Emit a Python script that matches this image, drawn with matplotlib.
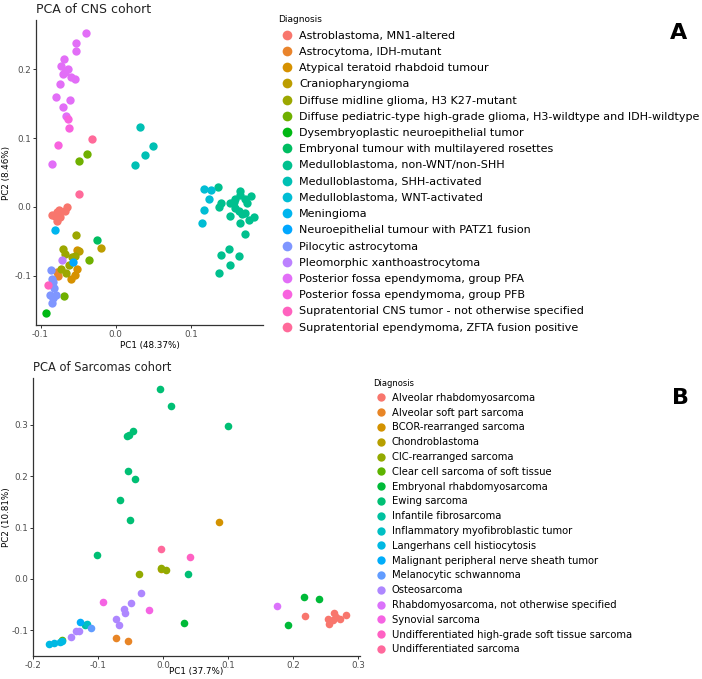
import numpy as np
import matplotlib
matplotlib.use("Agg")
import matplotlib.pyplot as plt
from matplotlib.lines import Line2D


def hue_pal(n, c=100, l=65):
    # ggplot2-style evenly spaced HCL hues -> rgb
    hues = 15 + 360 * np.arange(n) / n
    Xn, Yn, Zn = 95.047, 100.0, 108.883
    un = 4 * Xn / (Xn + 15 * Yn + 3 * Zn)
    vn = 9 * Yn / (Xn + 15 * Yn + 3 * Zn)
    out = []
    for h in hues:
        u = c * np.cos(np.radians(h))
        v = c * np.sin(np.radians(h))
        Y = Yn * ((l + 16) / 116) ** 3
        up = u / (13 * l) + un
        vp = v / (13 * l) + vn
        X = 9.0 * Y * up / (4 * vp)
        Z = -X / 3 - 5 * Y + 3 * Y / vp
        xyz = np.array([X, Y, Z]) / 100
        m = np.array([[3.240479, -1.537150, -0.498535],
                      [-0.969256, 1.875992, 0.041556],
                      [0.055648, -0.204043, 1.057311]])
        rgb = m @ xyz
        rgb = np.where(rgb > 0.0031308, 1.055 * np.abs(rgb) ** (1 / 2.4) - 0.055, 12.92 * rgb)
        out.append(tuple(np.clip(rgb, 0, 1)))
    return out


# ---------------- CNS cohort ----------------
cns_labels = [
    "Astroblastoma, MN1-altered",
    "Astrocytoma, IDH-mutant",
    "Atypical teratoid rhabdoid tumour",
    "Craniopharyngioma",
    "Diffuse midline glioma, H3 K27-mutant",
    "Diffuse pediatric-type high-grade glioma, H3-wildtype and IDH-wildtype",
    "Dysembryoplastic neuroepithelial tumor",
    "Embryonal tumour with multilayered rosettes",
    "Medulloblastoma, non-WNT/non-SHH",
    "Medulloblastoma, SHH-activated",
    "Medulloblastoma, WNT-activated",
    "Meningioma",
    "Neuroepithelial tumour with PATZ1 fusion",
    "Pilocytic astrocytoma",
    "Pleomorphic xanthoastrocytoma",
    "Posterior fossa ependymoma, group PFA",
    "Posterior fossa ependymoma, group PFB",
    "Supratentorial CNS tumor - not otherwise specified",
    "Supratentorial ependymoma, ZFTA fusion positive",
]

cns_pc1 = {
    0: [-0.0844, -0.0778, -0.0751, -0.0644, -0.0676, -0.0809, -0.0778, -0.0742],
    1: [-0.0764, -0.0787],
    2: [-0.0520, -0.0542, -0.0600, -0.0516],
    3: [-0.0200, -0.0484],
    4: [-0.0529, -0.0698, -0.0676, -0.0587, -0.0733, -0.0622, -0.0542, -0.0662],
    5: [-0.0493, -0.0378, -0.0684, -0.0351],
    6: [-0.0929],
    7: [-0.0244],
    8: [0.1356, 0.1378, 0.1404, 0.1524, 0.1569, 0.1658, 0.1649, 0.1582, 0.1724,
        0.1800, 0.1747, 0.1524, 0.1636, 0.1724, 0.1769, 0.1844, 0.1658, 0.1716,
        0.1507, 0.1400, 0.1524, 0.1636, 0.1373, 0.1680, 0.1591],
    9: [0.0329, 0.0502, 0.0396, 0.0258],
    10: [0.1178, 0.1267, 0.1244, 0.1169, 0.1142],
    11: [-0.0809],
    12: [-0.0570],
    13: [-0.0867, -0.0853, -0.0822, -0.0876, -0.0831, -0.0796, -0.0853, -0.0840],
    14: [-0.0720],
    15: [-0.0396, -0.0524, -0.0524, -0.0684, -0.0729, -0.0640, -0.0707, -0.0596,
         -0.0538, -0.0747, -0.0796, -0.0604, -0.0698, -0.0662, -0.0844, -0.0680],
    16: [-0.0631, -0.0627, -0.0764],
    17: [-0.0907],
    18: [-0.0316, -0.0493],
}
cns_pc2 = {
    0: [-0.0112, -0.0073, -0.0039, -0.0005, -0.0058, -0.0136, -0.0204, -0.0146],
    1: [-0.1010, -0.0947],
    2: [-0.0898, -0.0995, -0.1044, -0.0631],
    3: [-0.0597, -0.0641],
    4: [-0.0403, -0.0607, -0.0680, -0.0728, -0.0898, -0.0850, -0.0714, -0.0961],
    5: [0.0665, 0.0767, -0.1301, -0.0767],
    6: [-0.1544],
    7: [-0.0476],
    8: [0.0291, 0.0000, 0.0058, 0.0049, 0.0073, 0.0233, 0.0170, 0.0107, 0.0107,
        0.0160, 0.0049, -0.0136, -0.0058, -0.0083, -0.0194, -0.0146, -0.0233, -0.0398,
        -0.0607, -0.0704, -0.0840, -0.0718, -0.0956, -0.0097, -0.0024],
    9: [0.1165, 0.0888, 0.0762, 0.0607],
    10: [0.0257, 0.0252, 0.0121, -0.0039, -0.0228],
    11: [-0.0330],
    12: [-0.0800],
    13: [-0.0913, -0.1044, -0.1175, -0.1286, -0.1325, -0.1286, -0.1398, -0.1100],
    14: [-0.0767],
    15: [0.2534, 0.2388, 0.2267, 0.2155, 0.2049, 0.2005, 0.1932, 0.1893, 0.1859,
         0.1791, 0.1602, 0.1558, 0.1451, 0.1316, 0.0631, 0.1970],
    16: [0.1272, 0.1155, 0.0898],
    17: [-0.1131],
    18: [0.0985, 0.0184],
}

# ---------------- Sarcomas cohort ----------------
sarc_labels = [
    "Alveolar rhabdomyosarcoma",
    "Alveolar soft part sarcoma",
    "BCOR-rearranged sarcoma",
    "Chondroblastoma",
    "CIC-rearranged sarcoma",
    "Clear cell sarcoma of soft tissue",
    "Embryonal rhabdomyosarcoma",
    "Ewing sarcoma",
    "Infantile fibrosarcoma",
    "Inflammatory myofibroblastic tumor",
    "Langerhans cell histiocytosis",
    "Malignant peripheral nerve sheath tumor",
    "Melanocytic schwannoma",
    "Osteosarcoma",
    "Rhabdomyosarcoma, not otherwise specified",
    "Synovial sarcoma",
    "Undifferentiated high-grade soft tissue sarcoma",
    "Undifferentiated sarcoma",
]

sarc_pc1 = {
    0: [0.2184, 0.2633, 0.2541, 0.2617, 0.2556, 0.2730, 0.2811, 0.2668],
    1: [-0.0719, -0.0531],
    2: [0.0867],
    3: [-0.0030],
    4: [-0.0372, -0.0026, 0.0041],
    5: [-0.1560],
    6: [0.2168, 0.2403, 0.1929, 0.0316],
    7: [-0.0051, 0.0117, 0.1000, -0.0556, -0.0469, -0.0520, -0.0536, -0.0434,
        -0.0668, -0.0510, -0.1010, 0.0388],
    8: [-0.1200],
    9: [-0.1170],
    10: [-0.1760, -0.1670, -0.1590, -0.1560],
    11: [-0.1270],
    12: [-0.1110],
    13: [-0.0337, -0.0485, -0.0607, -0.0587, -0.0730, -0.0679, -0.1420, -0.1340, -0.1290],
    14: [0.1750],
    15: [-0.0930, -0.0210],
    16: [0.0420],
    17: [-0.0030],
}
sarc_pc2 = {
    0: [-0.0721, -0.0662, -0.0773, -0.0805, -0.0870, -0.0773, -0.0708, -0.0740],
    1: [-0.1143, -0.1214],
    2: [0.1104],
    3: [0.0200],
    4: [0.0104, 0.0221, 0.0182],
    5: [-0.1190],
    6: [-0.0351, -0.0383, -0.0890, -0.0857],
    7: [0.3688, 0.3370, 0.2974, 0.2786, 0.2883, 0.2799, 0.2104, 0.1935,
        0.1532, 0.1156, 0.0474, 0.0104],
    8: [-0.0900],
    9: [-0.0880],
    10: [-0.1260, -0.1250, -0.1220, -0.1200],
    11: [-0.0840],
    12: [-0.0950],
    13: [-0.0266, -0.0461, -0.0578, -0.0662, -0.0773, -0.0903, -0.1130, -0.1010, -0.1010],
    14: [-0.0526],
    15: [-0.0450, -0.0610],
    16: [0.0430],
    17: [0.0580],
}

W, H = 702, 679
fig = plt.figure(figsize=(W / 100, H / 100), dpi=100)


def px_axes(x0, y0, x1, y1):
    return fig.add_axes([x0 / W, 1 - y1 / H, (x1 - x0) / W, (y1 - y0) / H])


def style(ax):
    for s in ["top", "right"]:
        ax.spines[s].set_visible(False)
    for s in ["left", "bottom"]:
        ax.spines[s].set_color("#333333")
        ax.spines[s].set_linewidth(0.9)
    ax.tick_params(colors="#333333", labelcolor="#4D4D4D", labelsize=6.3,
                   length=2, width=0.7, pad=1.5)


def panel(ax, labels, pc1, pc2, size, title, tsize, xlab, ylab, xlim, ylim, xticks, yticks):
    cols = hue_pal(len(labels))
    for i in range(len(labels)):
        ax.scatter(pc1[i], pc2[i], s=size, color=cols[i], linewidths=0, zorder=3)
    ax.set_xlim(*xlim)
    ax.set_ylim(*ylim)
    ax.set_xticks(xticks)
    ax.set_yticks(yticks)
    ax.set_xticklabels([f"{t:.1f}" for t in xticks])
    ax.set_yticklabels([f"{t:.1f}" for t in yticks])
    style(ax)
    ax.set_title(title, loc="left", fontsize=tsize, color="#222222", pad=5)
    ax.set_xlabel(xlab, fontsize=6.3)
    ax.set_ylabel(ylab, fontsize=6.3)
    return cols


# top panel: axes box 36..263 x 20..325 px
ax1 = px_axes(36, 20, 263, 325)
cols1 = panel(ax1, cns_labels, cns_pc1, cns_pc2, 36, "PCA of CNS cohort", 9,
              "PC1 (48.37%)", "PC2 (8.46%)", (-0.106, 0.196), (-0.172, 0.272),
              [-0.1, 0.0, 0.1], [-0.1, 0.0, 0.1, 0.2])
ax1.xaxis.set_label_coords(0.5, -(341 - 325) / 305)
ax1.yaxis.set_label_coords(-(36 - 11) / 227, 0.5)
h1 = [Line2D([], [], ls="", marker="o", ms=7, mec="none", color=c) for c in cols1]
fig.legend(h1, cns_labels, loc="upper left", bbox_to_anchor=(274 / W, 1 - 11 / H),
           frameon=False, title="Diagnosis", fontsize=8, title_fontsize=6.5,
           labelspacing=0.56, handletextpad=0.25, handlelength=1.6,
           alignment="left", borderaxespad=0)

# bottom panel: axes box 33..360 x 378..656 px
ax2 = px_axes(33, 378, 360, 656)
cols2 = panel(ax2, sarc_labels, sarc_pc1, sarc_pc2, 30, "PCA of Sarcomas cohort", 8.3,
              "PC1 (37.7%)", "PC2 (10.81%)", (-0.197, 0.303), (-0.150, 0.391),
              [-0.2, -0.1, 0.0, 0.1, 0.2, 0.3], [-0.1, 0.0, 0.1, 0.2, 0.3])
ax2.xaxis.set_label_coords(0.5, -(667 - 656) / 278)
ax2.yaxis.set_label_coords(-(33 - 11) / 327, 0.5)
h2 = [Line2D([], [], ls="", marker="o", ms=6, mec="none", color=c) for c in cols2]
fig.legend(h2, sarc_labels, loc="upper left", bbox_to_anchor=(369 / W, 1 - 375 / H),
           frameon=False, title="Diagnosis", fontsize=7.2, title_fontsize=6,
           labelspacing=0.48, handletextpad=0.25, handlelength=1.6,
           alignment="left", borderaxespad=0)

fig.text(679 / W, 1 - 33 / H, "A", fontsize=16, fontweight="bold", ha="center", va="center")
fig.text(680 / W, 1 - 398 / H, "B", fontsize=16, fontweight="bold", ha="center", va="center")

fig.savefig("out.png", dpi=100)
